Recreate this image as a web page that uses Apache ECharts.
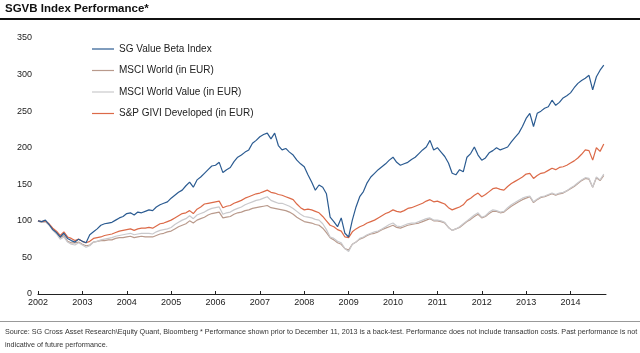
<!DOCTYPE html>
<html lang="en">
<head>
    <meta charset="UTF-8">
    <title>SGVB Index Performance</title>
    <script src="https://cdn.jsdelivr.net/npm/echarts@6/dist/echarts.min.js"></script>
    <style>
        html, body{margin: 0;padding: 0;background: #fff;}
        #main{width: 640px;height: 353px;}
    </style>
</head>
<body>
    <div id="main"></div>
    <script type="text/javascript">
        // monthly points, Jan 2002 .. Oct 2014
        var startYear = 2002;
        var yearTicks = [2002, 2003, 2004, 2005, 2006, 2007, 2008, 2009, 2010, 2011, 2012, 2013, 2014];

        var sgValueBeta = [
            100, 99, 101, 95, 88, 84, 78, 83, 76, 73, 71, 75,
            72, 70, 81, 85, 89, 94, 96, 97, 98, 101, 104, 106,
            110, 111, 108, 112, 111, 113, 115, 114, 119, 122, 124, 126,
            131, 135, 139, 142, 148, 153, 146, 156, 160, 165, 170, 175,
            176, 180, 166, 170, 173, 181, 187, 190, 194, 197, 206, 210,
            215, 218, 220, 212, 220, 203, 197, 199, 194, 190, 183, 178,
            174, 163, 153, 142, 149, 146, 137, 105, 99, 92, 104, 83,
            78, 101, 119, 133, 140, 152, 160, 165, 170, 174, 178, 183,
            187, 180, 176, 178, 180, 184, 187, 192, 197, 201, 210, 197,
            200, 194, 188, 179, 165, 163, 170, 167, 187, 192, 201, 190,
            183, 186, 193, 196, 200, 197, 199, 201, 208, 214, 220, 229,
            240, 247, 229, 247, 250, 254, 256, 265, 258, 262, 268, 271,
            275, 282, 288, 292, 295, 299, 279, 297, 306, 313
        ];
        var msciWorld = [
            100, 98, 99, 95, 89, 84, 77, 80, 72, 70, 70, 71,
            68, 66, 67, 71, 72, 73, 73, 74, 74, 76, 77, 77,
            78, 79, 77, 78, 79, 78, 78, 78, 80, 82, 83, 85,
            86, 89, 92, 94, 96, 100, 97, 101, 103, 105, 108, 110,
            111, 112, 104, 105, 106, 109, 111, 112, 114, 115, 117, 118,
            119, 120, 121, 118, 117, 116, 115, 114, 112, 109, 105, 102,
            99, 98, 97, 95, 94, 90, 84, 77, 74, 70, 68, 62,
            60, 68, 71, 75, 77, 80, 82, 83, 85, 88, 90, 92,
            94, 91, 90, 92, 94, 95, 96, 97, 99, 101, 103, 100,
            100, 99, 97, 91, 87, 89, 91, 95, 99, 102, 106, 109,
            104, 106, 110, 113, 113, 111, 112, 116, 120, 123, 126, 129,
            131, 133, 125, 129, 132, 133, 135, 137, 135, 137, 138, 141,
            144, 147, 151, 155, 158, 157, 146, 159, 155, 162
        ];
        var msciWorldValue = [
            100, 98, 99, 94, 87, 82, 75, 78, 71, 68, 67, 70,
            67, 64, 66, 71, 72, 74, 75, 76, 77, 79, 80, 81,
            82, 83, 81, 82, 83, 83, 83, 82, 85, 87, 88, 89,
            91, 95, 98, 101, 103, 107, 103, 108, 110, 112, 115, 117,
            118, 119, 109, 111, 112, 115, 117, 119, 122, 124, 126, 128,
            129, 131, 133, 128, 126, 124, 124, 122, 120, 117, 113, 109,
            106, 105, 104, 102, 101, 96, 88, 78, 76, 72, 70, 62,
            58, 68, 71, 76, 78, 81, 83, 85, 86, 89, 92, 95,
            97, 93, 92, 94, 96, 97, 97, 99, 101, 103, 104, 101,
            101, 100, 98, 91, 87, 89, 92, 96, 100, 104, 108, 111,
            105, 107, 112, 115, 114, 112, 113, 118, 122, 125, 128, 131,
            133, 134, 126, 130, 133, 134, 136, 138, 136, 138, 139, 141,
            145, 148, 152, 156, 159, 158, 146, 160, 156, 164
        ];
        var spGiviDev = [
            100, 99, 100, 96, 90, 86, 80, 85, 78, 76, 73, 75,
            72, 70, 72, 76, 77, 78, 80, 81, 82, 84, 86, 87,
            88, 89, 87, 89, 90, 90, 91, 90, 93, 96, 97, 99,
            101, 104, 107, 110, 111, 114, 110, 116, 119, 123, 124, 125,
            126, 127, 118, 120, 121, 124, 126, 128, 131, 133, 135, 137,
            138, 140, 142, 139, 138, 136, 135, 133, 131, 129, 123, 118,
            115, 116, 115, 113, 111, 106, 100, 94, 92, 88, 86, 78,
            77, 85, 89, 92, 94, 97, 99, 101, 104, 107, 110, 112,
            115, 113, 112, 114, 117, 118, 120, 122, 124, 127, 129, 126,
            127, 125, 123, 118, 115, 117, 119, 122, 128, 131, 135, 138,
            133, 136, 140, 144, 145, 143, 142, 147, 151, 154, 157, 160,
            164, 165, 158, 162, 165, 166, 169, 172, 170, 173, 174, 176,
            179, 182, 186, 191, 197, 196, 183, 200, 195, 205
        ];

        var names = ['SG Value Beta Index', 'MSCI World (in EUR)', 'MSCI World Value (in EUR)', 'S&P GIVI Developed (in EUR)'];
        var colors = ['#2b5b91', '#b99a8c', '#c9c9cc', '#dc6a48'];

        function toPoints(arr){
            var out = [];
            for(var i = 0; i < arr.length; i++){
                out.push([startYear + i / 12, arr[i]]);
            }
            return out;
        }

        var font = 'Liberation Sans, Arial, sans-serif';
        var myChart = echarts.init(document.getElementById('main'));

        function line(idx, arr, z){
            return {
                name: names[idx], type: 'line', data: toPoints(arr),
                showSymbol: false, symbol: 'none', z: z, animation: false,
                lineStyle: {color: colors[idx], width: 1.2},
                itemStyle: {color: colors[idx]}
            };
        }

        var option = {
            backgroundColor: '#fff',
            animation: false,
            grid: {left: 38, right: 34, top: 38, bottom: 59},
            legend: {
                orient: 'vertical', left: 87, top: 38,
                itemWidth: 22, itemHeight: 1.2, itemGap: 9.5, icon: 'rect',
                data: names,
                textStyle: {fontFamily: font, fontSize: 10, color: '#222', lineHeight: 12}
            },
            xAxis: {
                type: 'value', min: 2002, max: 2014.8, interval: 1,
                axisLine: {lineStyle: {color: '#222', width: 1}},
                axisTick: {inside: true, length: 3, lineStyle: {color: '#222'}},
                splitLine: {show: false},
                axisLabel: {
                    fontFamily: font, fontSize: 9, color: '#222', margin: 4,
                    showMaxLabel: false,
                    formatter: function(v){ return yearTicks.indexOf(v) >= 0 ? String(v) : ''; }
                }
            },
            yAxis: {
                type: 'value', min: 0, max: 350, interval: 50,
                axisLine: {show: false}, axisTick: {show: false},
                splitLine: {show: false},
                axisLabel: {fontFamily: font, fontSize: 9, color: '#222', margin: 6}
            },
            graphic: [
                {type: 'text', left: 5, top: 3, style: {text: 'SGVB Index Performance*', fontFamily: font, fontSize: 11.5, fontWeight: 'bold', fill: '#111'}},
                {type: 'rect', shape: {x: 0, y: 18, width: 640, height: 2}, style: {fill: '#111'}},
                {type: 'rect', shape: {x: 0, y: 321, width: 640, height: 1}, style: {fill: '#999'}},
                {type: 'text', left: 5, top: 326, style: {
                    text: 'Source: SG Cross Asset Research\\Equity Quant, Bloomberg * Performance shown prior to December 11, 2013 is a back-test. Performance does not include transaction costs. Past performance is not\nindicative of future performance.',
                    fontFamily: font, fontSize: 7.2, lineHeight: 12.5, fill: '#333'}}
            ],
            series: [
                line(1, msciWorld, 2),
                line(2, msciWorldValue, 3),
                line(3, spGiviDev, 4),
                line(0, sgValueBeta, 5)
            ]
        };
        myChart.setOption(option);
    </script>
</body>
</html>
